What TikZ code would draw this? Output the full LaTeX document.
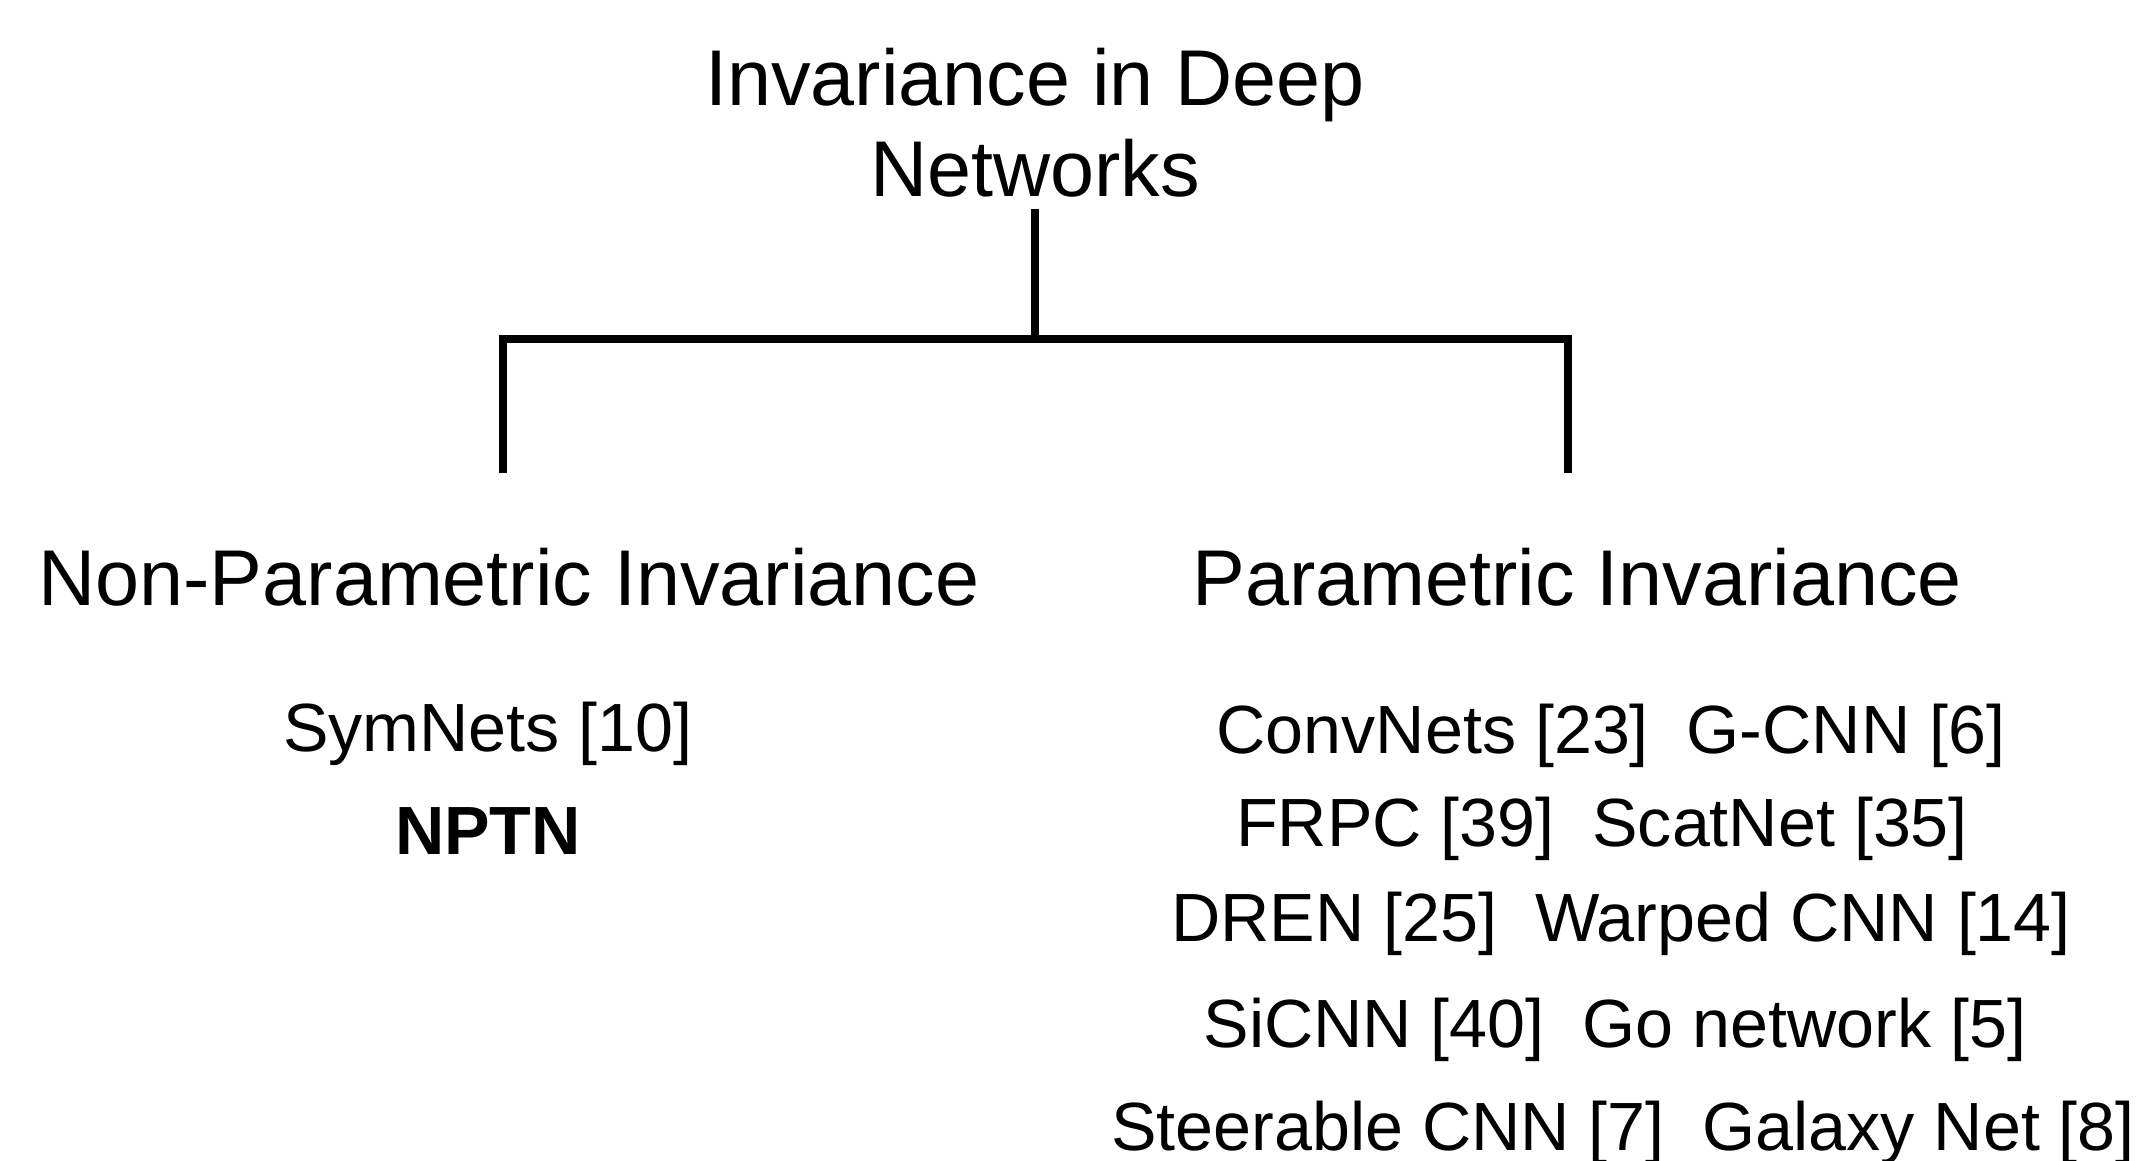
\documentclass[tikz,border=0pt]{standalone}
\usepackage{fontspec}
\setmainfont{Liberation Sans}
\usetikzlibrary{positioning}
\tikzset{
	title/.style={align=center,inner sep=0pt,font=\fontsize{22.5}{25.9}\selectfont},
	heading/.style={anchor=base,inner sep=0pt,font=\fontsize{22.5}{27}\selectfont},
	method/.style={anchor=base,inner sep=0pt,font=\fontsize{19.4}{23}\selectfont},
	branch/.style={line width=2.3pt}
}

\begin{document}
\begin{tikzpicture}[x=0.01cm,y=-0.01cm]
	\useasboundingbox (0,0) rectangle (2142,1161);
	\node[title,anchor=south] (root) at (1035,198) {Invariance in Deep\\Networks};
	\node[heading] (nonpar) at (509,605) {Non-Parametric Invariance};
	\node[heading] (par) at (1577,605) {Parametric Invariance};
	% non-parametric methods
	\node[method] (symnets) at (488,751) {SymNets [10]};
	\node[method,font=\fontsize{19.4}{23}\selectfont\bfseries] (nptn) at (488,854) {NPTN};
	% parametric methods
	\node[method] (convnets) at (1611,753) {ConvNets [23]~ G-CNN [6]};
	\node[method] (frpc) at (1602,846) {FRPC [39]~ ScatNet [35]};
	\node[method] (dren) at (1621,941) {DREN [25]~ Warped CNN [14]};
	\node[method] (sicnn) at (1615,1047) {SiCNN [40]~ Go network [5]};
	\node[method] (steerable) at (1623,1150) {Steerable CNN [7]~ Galaxy Net [8]};
	\coordinate (left) at (503,0);
	\coordinate (right) at (1568,0);
	\draw[branch,shorten <=0.11cm] (root.south) -- ++(0,141) coordinate (fork);
	\draw[branch] (left |- nonpar.north) ++(0,-74) |- (fork) -| ([yshift=0.74cm]right |- par.north);
\end{tikzpicture}
\end{document}
